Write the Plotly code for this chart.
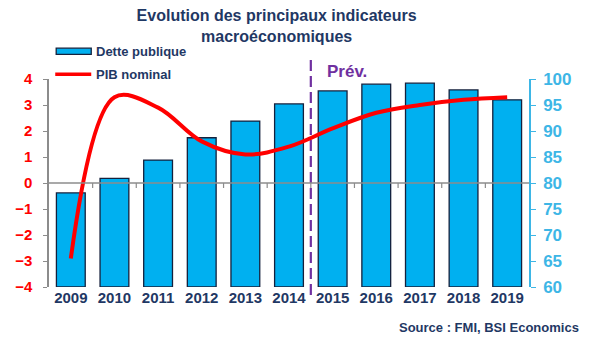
import plotly.graph_objects as go

# Data
years = ["2009", "2010", "2011", "2012", "2013", "2014",
         "2015", "2016", "2017", "2018", "2019"]
dette_publique = [78.1, 80.9, 84.4, 88.7, 91.9, 95.2, 97.7, 99.0, 99.2, 97.9, 96.0]
pib_nominal = [-2.9, 3.3, 2.9, 1.6, 1.1, 1.4, 2.1, 2.7, 3.0, 3.2, 3.3]

left_ticks = [-4, -3, -2, -1, 0, 1, 2, 3, 4]
right_ticks = [60, 65, 70, 75, 80, 85, 90, 95, 100]
right_base = 60
forecast_from = 6  # index of the first forecast year

NAVY = "#1F3864"
BLUE = "#00B0F0"
AXIS_BLUE = "#3DB6E6"
RED = "#FF0000"
PURPLE = "#7030A0"
GREY = "#8c8c8c"
FONT = "Liberation Sans, Arial, sans-serif"

fig = go.Figure()

# Public debt bars (right axis, drawn first so the line sits on top)
fig.add_trace(go.Bar(
    x=years,
    y=[v - right_base for v in dette_publique],
    base=right_base,
    name="Dette publique",
    yaxis="y",
    marker=dict(color=BLUE, line=dict(color="#14213d", width=1.3)),
    width=0.66,
    showlegend=False,
))

# Nominal GDP growth line (left axis)
fig.add_trace(go.Scatter(
    x=years,
    y=pib_nominal,
    name="PIB nominal",
    yaxis="y2",
    mode="lines",
    line=dict(color=RED, width=4, shape="spline", smoothing=1.0),
    showlegend=False,
))

shapes = []
# Forecast separator
shapes.append(dict(type="line", xref="x", yref="paper",
                   x0=forecast_from - 0.5, x1=forecast_from - 0.5, y0=-0.038, y1=1.115,
                   line=dict(color=PURPLE, width=2.2, dash="11px,5px"), layer="below"))

# Category axis along the zero line of the left scale
shapes.append(dict(type="line", xref="paper", yref="y2", x0=0, x1=1, y0=0, y1=0,
                   line=dict(color=GREY, width=1.5), layer="above"))
for i in range(len(years) - 1):
    shapes.append(dict(type="line", xref="x", yref="y2", ysizemode="pixel", yanchor=0,
                       x0=i + 0.5, x1=i + 0.5, y0=0, y1=-5,
                       line=dict(color=GREY, width=1.2), layer="above"))

# Custom legend swatches
shapes.append(dict(type="rect", xref="paper", yref="paper",
                   x0=0.015, x1=0.088, y0=1.118, y1=1.148,
                   fillcolor=BLUE, line=dict(color="#14213d", width=1.3)))
shapes.append(dict(type="line", xref="paper", yref="paper",
                   x0=0.013, x1=0.088, y0=1.023, y1=1.023,
                   line=dict(color=RED, width=3.5)))

annotations = [
    dict(x=0.094, xref="paper", y=1.133, yref="paper", text="<b>Dette publique</b>",
         showarrow=False, xanchor="left", yanchor="middle",
         font=dict(color=NAVY, size=13, family=FONT)),
    dict(x=0.094, xref="paper", y=1.023, yref="paper", text="<b>PIB nominal</b>",
         showarrow=False, xanchor="left", yanchor="middle",
         font=dict(color=NAVY, size=13, family=FONT)),
    dict(x=forecast_from - 0.5, xref="x", y=1.036, yref="paper", text="<b>Prév.</b>",
         showarrow=False, xanchor="left", yanchor="middle", xshift=14,
         font=dict(color=PURPLE, size=17, family=FONT)),
    dict(x=1.108, xref="paper", y=-0.197, yref="paper",
         text="<b>Source : FMI, BSI Economics</b>", showarrow=False,
         xanchor="right", yanchor="middle",
         font=dict(color=NAVY, size=13, family=FONT)),
]

fig.update_layout(
    width=608, height=345,
    margin=dict(l=49, r=79, t=79, b=58),
    paper_bgcolor="white", plot_bgcolor="white",
    title=dict(
        text="<b>Evolution des principaux indicateurs<br>macroéconomiques</b>",
        x=0.455, xanchor="center", y=0.938, yanchor="top",
        font=dict(color=NAVY, size=16, family=FONT),
    ),
    showlegend=False,
    shapes=shapes,
    annotations=annotations,
    xaxis=dict(
        type="category", showline=False, ticks="",
        tickfont=dict(color=NAVY, size=15, family=FONT, weight="bold"),
        showgrid=False, zeroline=False,
    ),
    yaxis=dict(
        range=[60, 100], tickvals=right_ticks, side="right",
        showline=True, linecolor=AXIS_BLUE, linewidth=1.5,
        ticks="outside", ticklen=5, tickcolor=AXIS_BLUE,
        tickfont=dict(color=AXIS_BLUE, size=17, family=FONT, weight="bold"),
        ticklabelstandoff=4,
        showgrid=False, zeroline=False,
    ),
    yaxis2=dict(
        range=[-4, 4], tickvals=left_ticks, overlaying="y", side="left",
        showline=True, linecolor=GREY, linewidth=1.5,
        ticks="outside", ticklen=4, tickcolor=GREY,
        tickfont=dict(color=RED, size=15, family=FONT, weight="bold"),
        ticklabelstandoff=8,
        showgrid=False, zeroline=False,
    ),
)

fig.write_html("out.html")
